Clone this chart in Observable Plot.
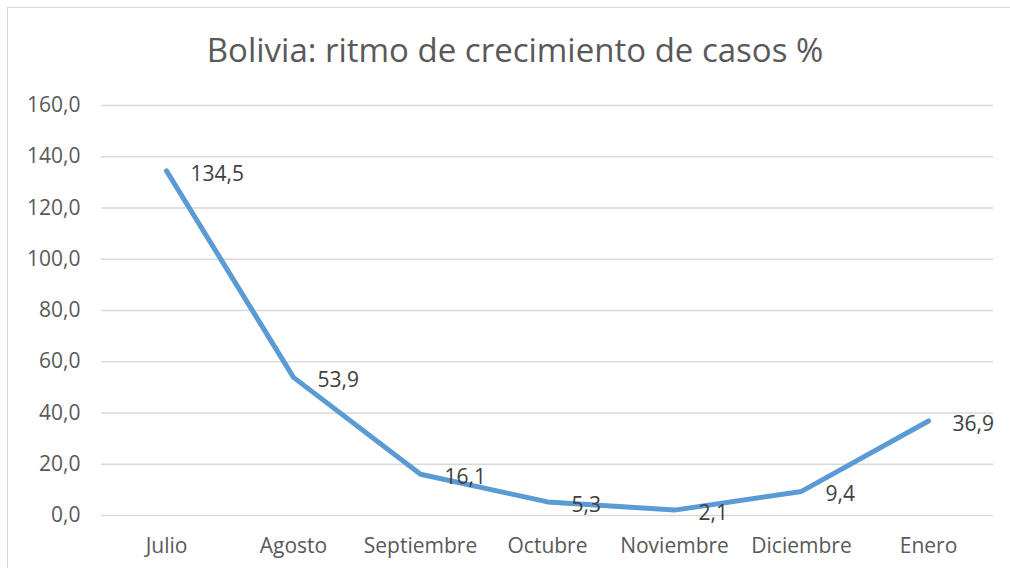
<!DOCTYPE html>
<html>
<head>
<meta charset="utf-8">
<script src="https://cdn.jsdelivr.net/npm/d3@7"></script>
<script src="https://cdn.jsdelivr.net/npm/@observablehq/plot@0.6"></script>
<style>
  html, body { margin: 0; padding: 0; background: #fff; overflow: hidden; }
  #frame { position: absolute; left: 7px; top: 7px; width: 1100px; height: 700px; border: 1px solid #d9d9d9; box-sizing: border-box; }
  #wrap { position: absolute; left: 0; top: 0; width: 1010px; height: 568px; font-family: "Open Sans", sans-serif; }
  #title { position: absolute; left: 0; top: 0; width: 1010px; height: 80px; text-align: center; color: #595959; font-size: 33px; line-height: 33px; padding-top: 33px; box-sizing: border-box; padding-left: 20px; }
  #chart { position: absolute; left: 0; top: 80px; }
</style>
</head>
<body>
<div id="frame"></div>
<div id="wrap">
  <div id="title">Bolivia: ritmo de crecimiento de casos %</div>
  <div id="chart"></div>
</div>
<script>
const months = ["Julio", "Agosto", "Septiembre", "Octubre", "Noviembre", "Diciembre", "Enero"];
const values = [134.5, 53.9, 16.1, 5.3, 2.1, 9.4, 36.9];
const yTicks = [0, 20, 40, 60, 80, 100, 120, 140, 160];

const data = months.map((m, i) => ({month: m, value: values[i]}));
const fmt = v => v.toFixed(1).replace(".", ",");

const plot = Plot.plot({
  width: 1010,
  height: 488,
  marginLeft: 101,
  marginRight: 17,
  marginTop: 25,
  marginBottom: 53,
  style: {fontFamily: "Open Sans, sans-serif", fontSize: "21px", color: "#595959", background: "transparent"},
  x: {type: "point", domain: months, padding: 0.5, label: null, tickSize: 0, tickPadding: 23},
  y: {domain: [0, 160], ticks: yTicks, tickFormat: fmt, label: null, tickSize: 0, tickPadding: 21},
  marks: [
    Plot.ruleY(yTicks, {stroke: "#d9d9d9", strokeWidth: 1.3}),
    Plot.lineY(data, {x: "month", y: "value", stroke: "#5b9bd5", strokeWidth: 5, strokeLinecap: "round", strokeLinejoin: "round"}),
    Plot.text(data, {x: "month", y: "value", text: d => fmt(d.value), textAnchor: "start", dx: 24, dy: 3, fill: "#404040", fontSize: 21})
  ]
});
document.getElementById("chart").appendChild(plot);
</script>
</body>
</html>
